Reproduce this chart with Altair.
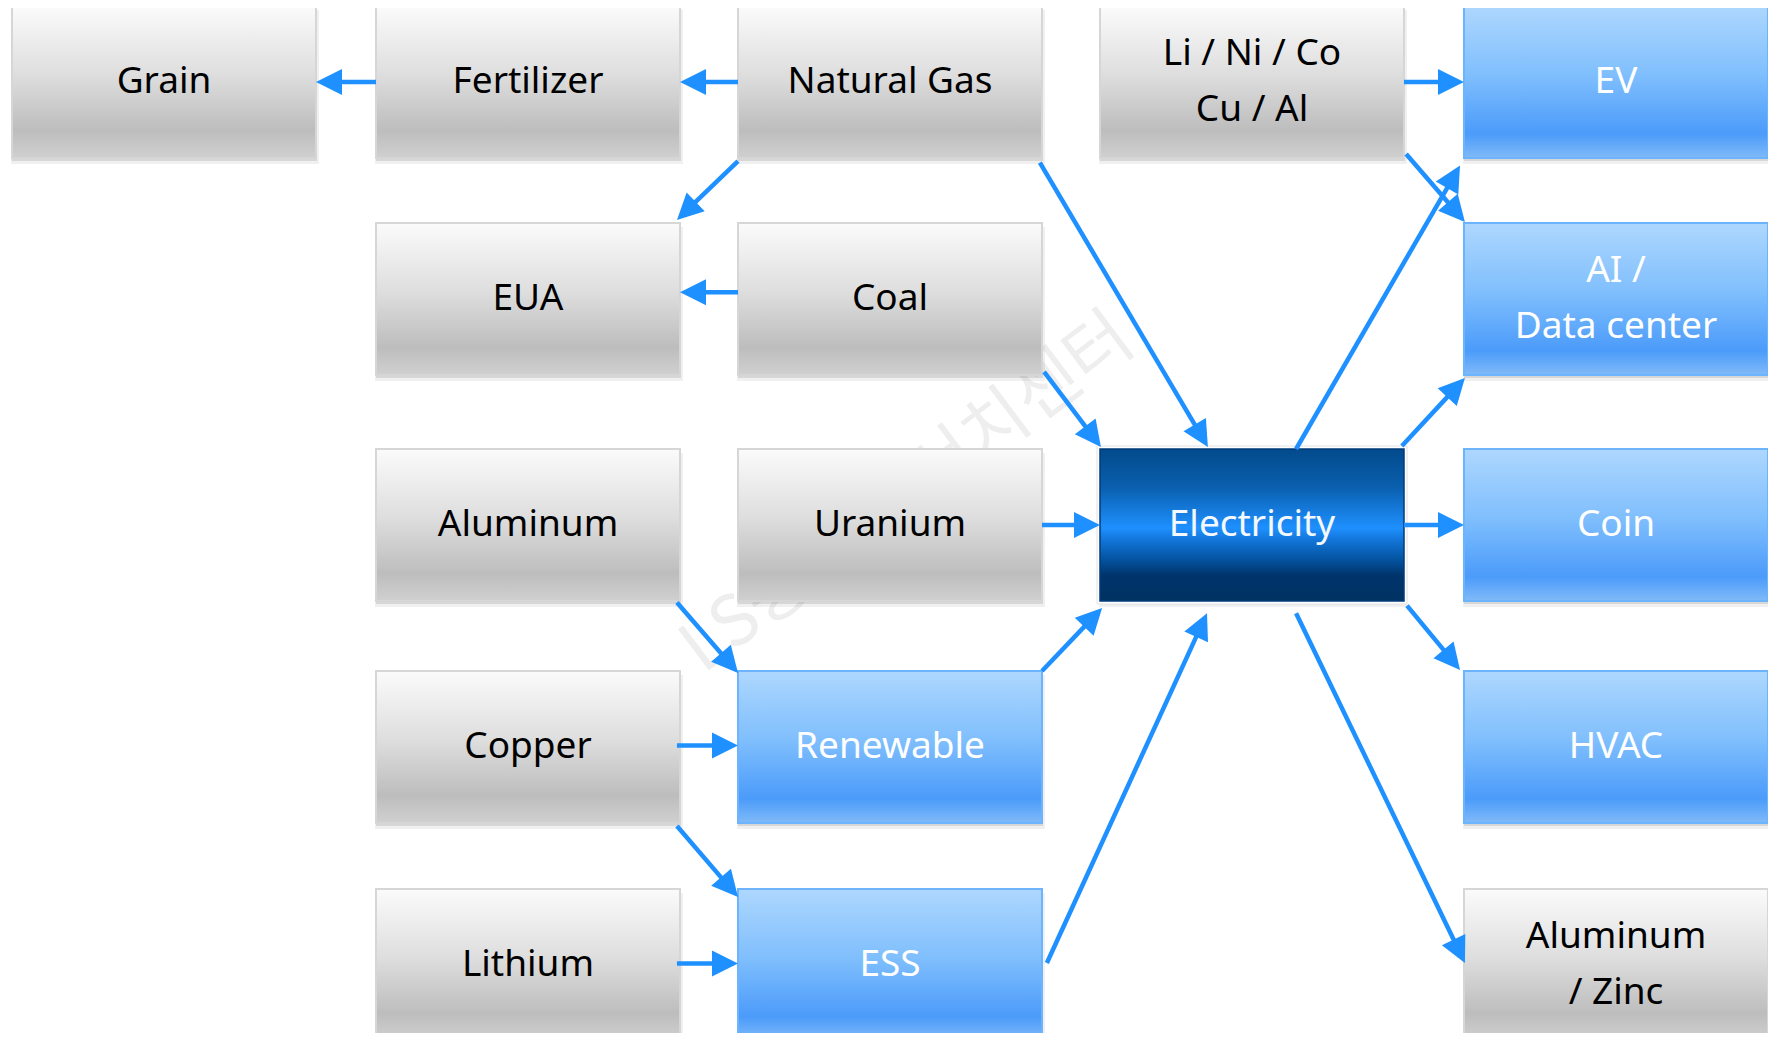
import math
import altair as alt
import pandas as pd

# ---------------- data ----------------
node_ids = ["grain", "fert", "gas", "metals", "ev",
            "eua", "coal", "ai",
            "alu", "uran", "elec", "coin",
            "copper", "renew", "hvac",
            "lith", "ess", "alzn"]
node_labels = ["Grain", "Fertilizer", "Natural Gas", "Li / Ni / Co\nCu / Al", "EV",
               "EUA", "Coal", "AI /\nData center",
               "Aluminum", "Uranium", "Electricity", "Coin",
               "Copper", "Renewable", "HVAC",
               "Lithium", "ESS", "Aluminum\n/ Zinc"]
node_col = [0, 1, 2, 3, 4,
            1, 2, 4,
            1, 2, 3, 4,
            1, 2, 4,
            1, 2, 4]
node_row = [0, 0, 0, 0, 0,
            1, 1, 1,
            2, 2, 2, 2,
            3, 3, 3,
            4, 4, 4]
node_style = ["gray", "gray", "gray", "gray", "light",
              "gray", "gray", "light",
              "gray", "gray", "dark", "light",
              "gray", "light", "light",
              "gray", "light", "gray"]

# layout grid (diagram units = pixels of the picture)
col_left = [12, 376, 738, 1100, 1464]
row_top = [6, 223, 449, 671, 889]
box_w = 304
box_h = 152
line_h = 56

# edges: source, anchor on source (fraction of box), target, anchor on target
edge_src = ["fert", "gas", "gas", "coal", "gas", "coal", "uran", "alu", "copper", "renew",
            "copper", "lith", "ess", "metals", "metals", "elec", "elec", "elec", "elec", "elec"]
edge_sfx = [0, 0, 0, 0, 0.993, 1.007, 1, 0.99, 0.99, 1,
            0.99, 0.99, 1.016, 1, 1.007, 0.645, 0.993, 1, 1.01, 0.645]
edge_sfy = [0.5, 0.5, 1.02, 0.455, 1.03, 0.98, 0.5, 1.01, 0.49, 0,
            1.02, 0.49, 0.487, 0.5, 0.974, 0, -0.02, 0.5, 1.03, 1.08]
edge_dst = ["grain", "fert", "eua", "eua", "elec", "elec", "elec", "renew", "renew", "elec",
            "ess", "ess", "elec", "ev", "ai", "ev", "ai", "coin", "hvac", "alzn"]
edge_dfx = [1, 1, 0.99, 1, 0.355, 0.003, 0, 0, 0, 0.007,
            0, 0, 0.352, 0, 0.003, -0.013, 0.003, 0, -0.013, 0.003]
edge_dfy = [0.5, 0.5, -0.02, 0.455, -0.013, -0.013, 0.5, 0.013, 0.49, 1.046,
            0.053, 0.49, 1.08, 0.5, -0.007, 1.05, 1.02, 0.5, -0.007, 0.487]

watermark = ["LS증권 리서치센터"]

# ---------------- tables ----------------
nodes = pd.DataFrame({"id": node_ids, "label": node_labels, "style": node_style})
nodes["x"] = [col_left[c] for c in node_col]
nodes["y"] = [row_top[r] for r in node_row]
nodes["x2"] = nodes["x"] + box_w
nodes["y2"] = nodes["y"] + box_h
nodes["cx"] = nodes["x"] + box_w / 2
nodes["cy"] = nodes["y"] + box_h / 2
nodes["ty"] = nodes["cy"] - (nodes["label"].str.count("\n")) * line_h / 2
pos = nodes.set_index("id")

HEAD = 26
rows_line, rows_head = [], []
for s, sfx, sfy, d, dfx, dfy in zip(edge_src, edge_sfx, edge_sfy, edge_dst, edge_dfx, edge_dfy):
    x0 = pos.loc[s, "x"] + sfx * box_w
    y0 = pos.loc[s, "y"] + sfy * box_h
    x1 = pos.loc[d, "x"] + dfx * box_w
    y1 = pos.loc[d, "y"] + dfy * box_h
    dx, dy = x1 - x0, y1 - y0
    L = math.hypot(dx, dy)
    ux, uy = dx / L, dy / L
    rows_line.append({"x": x0, "y": y0, "x2": x1 - ux * (HEAD - 3), "y2": y1 - uy * (HEAD - 3)})
    rows_head.append({"x": x1, "y": y1, "angle": math.degrees(math.atan2(dx, -dy)) % 360})
lines = pd.DataFrame(rows_line)
heads = pd.DataFrame(rows_head)

# ---------------- scales ----------------
W, H = 1760, 1025
XS = alt.Scale(domain=[8, 8 + W], nice=False, zero=False)
YS = alt.Scale(domain=[8, 8 + H], nice=False, zero=False, reverse=True)


def grad(stops):
    return alt.LinearGradient(
        gradient="linear", x1=0, x2=0, y1=0, y2=1,
        stops=[alt.GradientStop(offset=o, color=c) for o, c in stops])


gray_fill = grad([(0, "#fbfbfb"), (0.45, "#dedede"), (0.82, "#bdbdbd"), (1, "#d0d0d0")])
light_fill = grad([(0, "#aed7fe"), (0.45, "#80bffd"), (0.84, "#4b9bfa"), (1, "#80baf8")])
dark_fill = grad([(0, "#024a8c"), (0.25, "#0a5fae"), (0.52, "#1e90ff"), (0.6, "#1275d8"),
                  (0.72, "#0455a3"), (0.83, "#00346c"), (1, "#003262")])

base = alt.Chart(nodes)


def rect_enc(prefix=""):
    return dict(
        x=alt.X(f"{prefix}x:Q", scale=XS, axis=None),
        x2=f"{prefix}x2:Q",
        y=alt.Y(f"{prefix}y:Q", scale=YS, axis=None),
        y2=f"{prefix}y2:Q",
    )


wm = alt.Chart(pd.DataFrame({"t": watermark})).mark_text(
    font="Noto Sans CJK KR", fontSize=70, color="#eeeeee", angle=323, clip=True
).encode(text="t:N", x=alt.value(900), y=alt.value(486))

shadow1 = base.transform_calculate(
    sx="datum.x - 1", sx2="datum.x2 + 3", sy="datum.y + 4", sy2="datum.y2 + 6"
).mark_rect(fill="#000000", opacity=0.06, clip=True).encode(**rect_enc("s"))
shadow2 = base.transform_calculate(
    sx="datum.x", sx2="datum.x2 + 1", sy="datum.y + 2", sy2="datum.y2 + 3"
).mark_rect(fill="#000000", opacity=0.10, clip=True).encode(**rect_enc("s"))

elec_frame = base.transform_filter(alt.datum.style == "dark").transform_calculate(
    sx="datum.x - 3", sx2="datum.x2 + 3", sy="datum.y - 3", sy2="datum.y2 + 3"
).mark_rect(fill="#ffffff", stroke="#e2e2e2", strokeWidth=1, clip=True).encode(**rect_enc("s"))

gray_boxes = base.transform_filter(alt.datum.style == "gray").mark_rect(
    fill=gray_fill, stroke="#d6d6d6", strokeWidth=2, clip=True).encode(**rect_enc())
light_boxes = base.transform_filter(alt.datum.style == "light").mark_rect(
    fill=light_fill, stroke="#6cb4fd", strokeWidth=2, clip=True).encode(**rect_enc())
dark_boxes = base.transform_filter(alt.datum.style == "dark").mark_rect(
    fill=dark_fill, stroke="#003c7a", strokeWidth=1.5, clip=True).encode(**rect_enc())

labels = base.mark_text(
    font="Noto Sans", fontSize=37, lineBreak="\n", lineHeight=line_h,
    align="center", baseline="middle", clip=True
).encode(
    x=alt.X("cx:Q", scale=XS, axis=None),
    y=alt.Y("ty:Q", scale=YS, axis=None),
    text="label:N",
    color=alt.Color("style:N", scale=alt.Scale(domain=["gray", "light", "dark"],
                                               range=["#000000", "#ffffff", "#f4f8ff"]),
                    legend=None),
)

arrow_lines = alt.Chart(lines).mark_rule(color="#1e90ff", strokeWidth=4.5, clip=True).encode(
    x=alt.X("x:Q", scale=XS, axis=None), y=alt.Y("y:Q", scale=YS, axis=None),
    x2="x2:Q", y2="y2:Q")

arrow_heads = alt.Chart(heads).mark_point(
    shape="M0,0L0.5,1L-0.5,1Z", size=(2 * HEAD) ** 2, filled=True,
    color="#1e90ff", opacity=1, strokeWidth=0, clip=True
).encode(
    x=alt.X("x:Q", scale=XS, axis=None), y=alt.Y("y:Q", scale=YS, axis=None),
    angle=alt.Angle("angle:Q", scale=None))

chart = alt.layer(
    wm, shadow1, shadow2, elec_frame, gray_boxes, light_boxes, dark_boxes,
    labels, arrow_lines, arrow_heads
).properties(
    width=W, height=H, padding=0, background="#ffffff",
    autosize=alt.AutoSizeParams(type="none")
).configure_view(stroke=None)

chart.save("out.html", embed_options={"renderer": "svg", "actions": False})
